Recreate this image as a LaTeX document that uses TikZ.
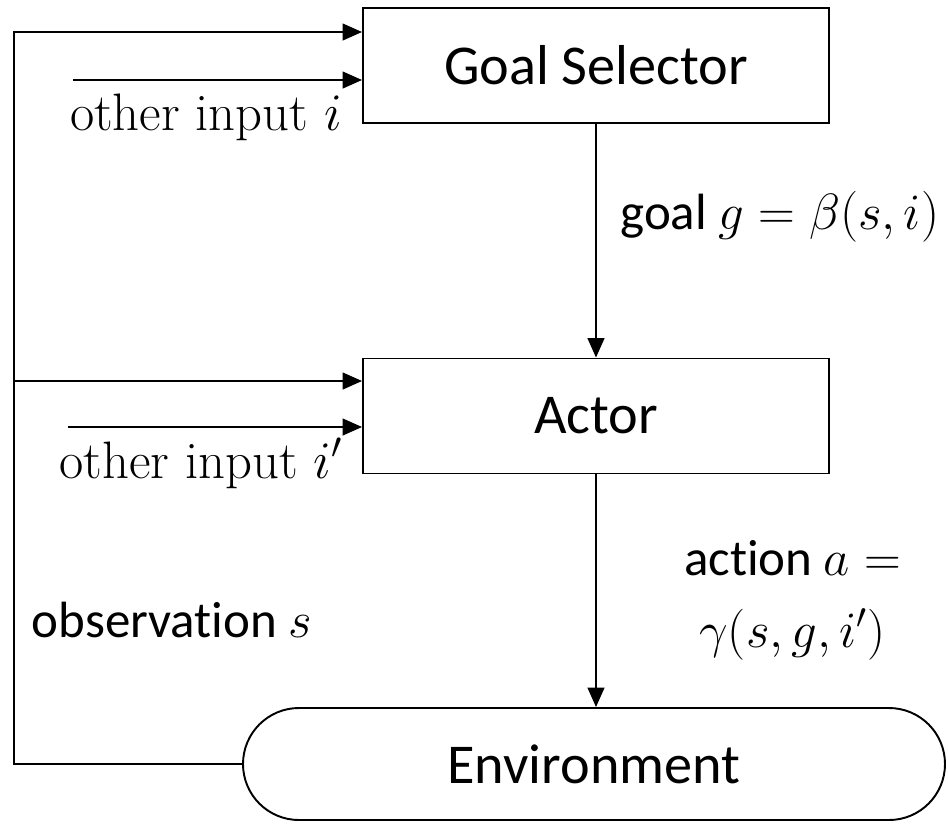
\RequirePackage{fix-cm}
\documentclass[tikz,border=0pt]{standalone}
\usepackage{fontspec}
\usepackage{tikz}
\usetikzlibrary{arrows.meta, positioning, calc}
\newfontfamily\calibri[Ligatures=NoCommon]{Carlito}

\begin{document}
\begin{tikzpicture}[
  box/.style={rectangle, draw, line width=1.1pt, minimum width=9.32cm, minimum height=2.3cm,
              font=\calibri\fontsize{32}{38}\selectfont},
  envbox/.style={rectangle, draw, line width=1.1pt, rounded corners=1.12cm, minimum width=14.04cm,
              minimum height=2.24cm, font=\calibri\fontsize{32}{38}\selectfont},
  arr/.style={-{Triangle[length=11pt, width=9.5pt]}, line width=1.1pt},
  lbl/.style={font=\calibri\fontsize{29}{34}\selectfont, align=center},
  inlbl/.style={font=\fontsize{30}{34}\selectfont}
]
  \useasboundingbox (0,0) rectangle (18.96,-16.5);

  % Boxes
  \node[box] (goal) at (11.92, -1.31) {Goal Selector};
  \node[box] (actor) at (11.92, -8.32) {Actor};
  \node[envbox] (env) at (11.88, -15.28) {Environment};

  % Main flow
  \draw[arr] (goal) -- node[pos=0.45, anchor=base west, xshift=0.35cm, lbl] (goallbl) {goal $g = \beta(s, i)$} (actor);
  \draw[arr] (actor.south) -- (actor.south |- env.north);
  \node[lbl] (actlbl) at (15.85, -12.0) {action $a =$\\[7pt]$\gamma(s, g, i')$};

  % Feedback of the observation
  \coordinate (fbtop) at (0.28, -0.64);
  \coordinate (fbmid) at (0.28, -7.62);
  \draw[arr] (env.west) -| (fbtop) -- (fbtop -| goal.west);
  \draw[arr] (fbmid) -- (fbmid -| actor.west);
  \node[lbl, anchor=base] (obslbl) at (3.44, -12.74) {observation $s$};

  % Other inputs
  \coordinate (ingoal) at (1.46, -1.6);
  \draw[arr] (ingoal) -- (ingoal -| goal.west);
  \node[inlbl, anchor=base] (otheri) at (4.12, -2.6) {other input $i$};

  \coordinate (inactor) at (1.36, -8.54);
  \draw[arr] (inactor) -- (inactor -| actor.west);
  \node[inlbl, anchor=base] (otherii) at (4.02, -9.56) {other input $i'$};
\end{tikzpicture}
\end{document}
